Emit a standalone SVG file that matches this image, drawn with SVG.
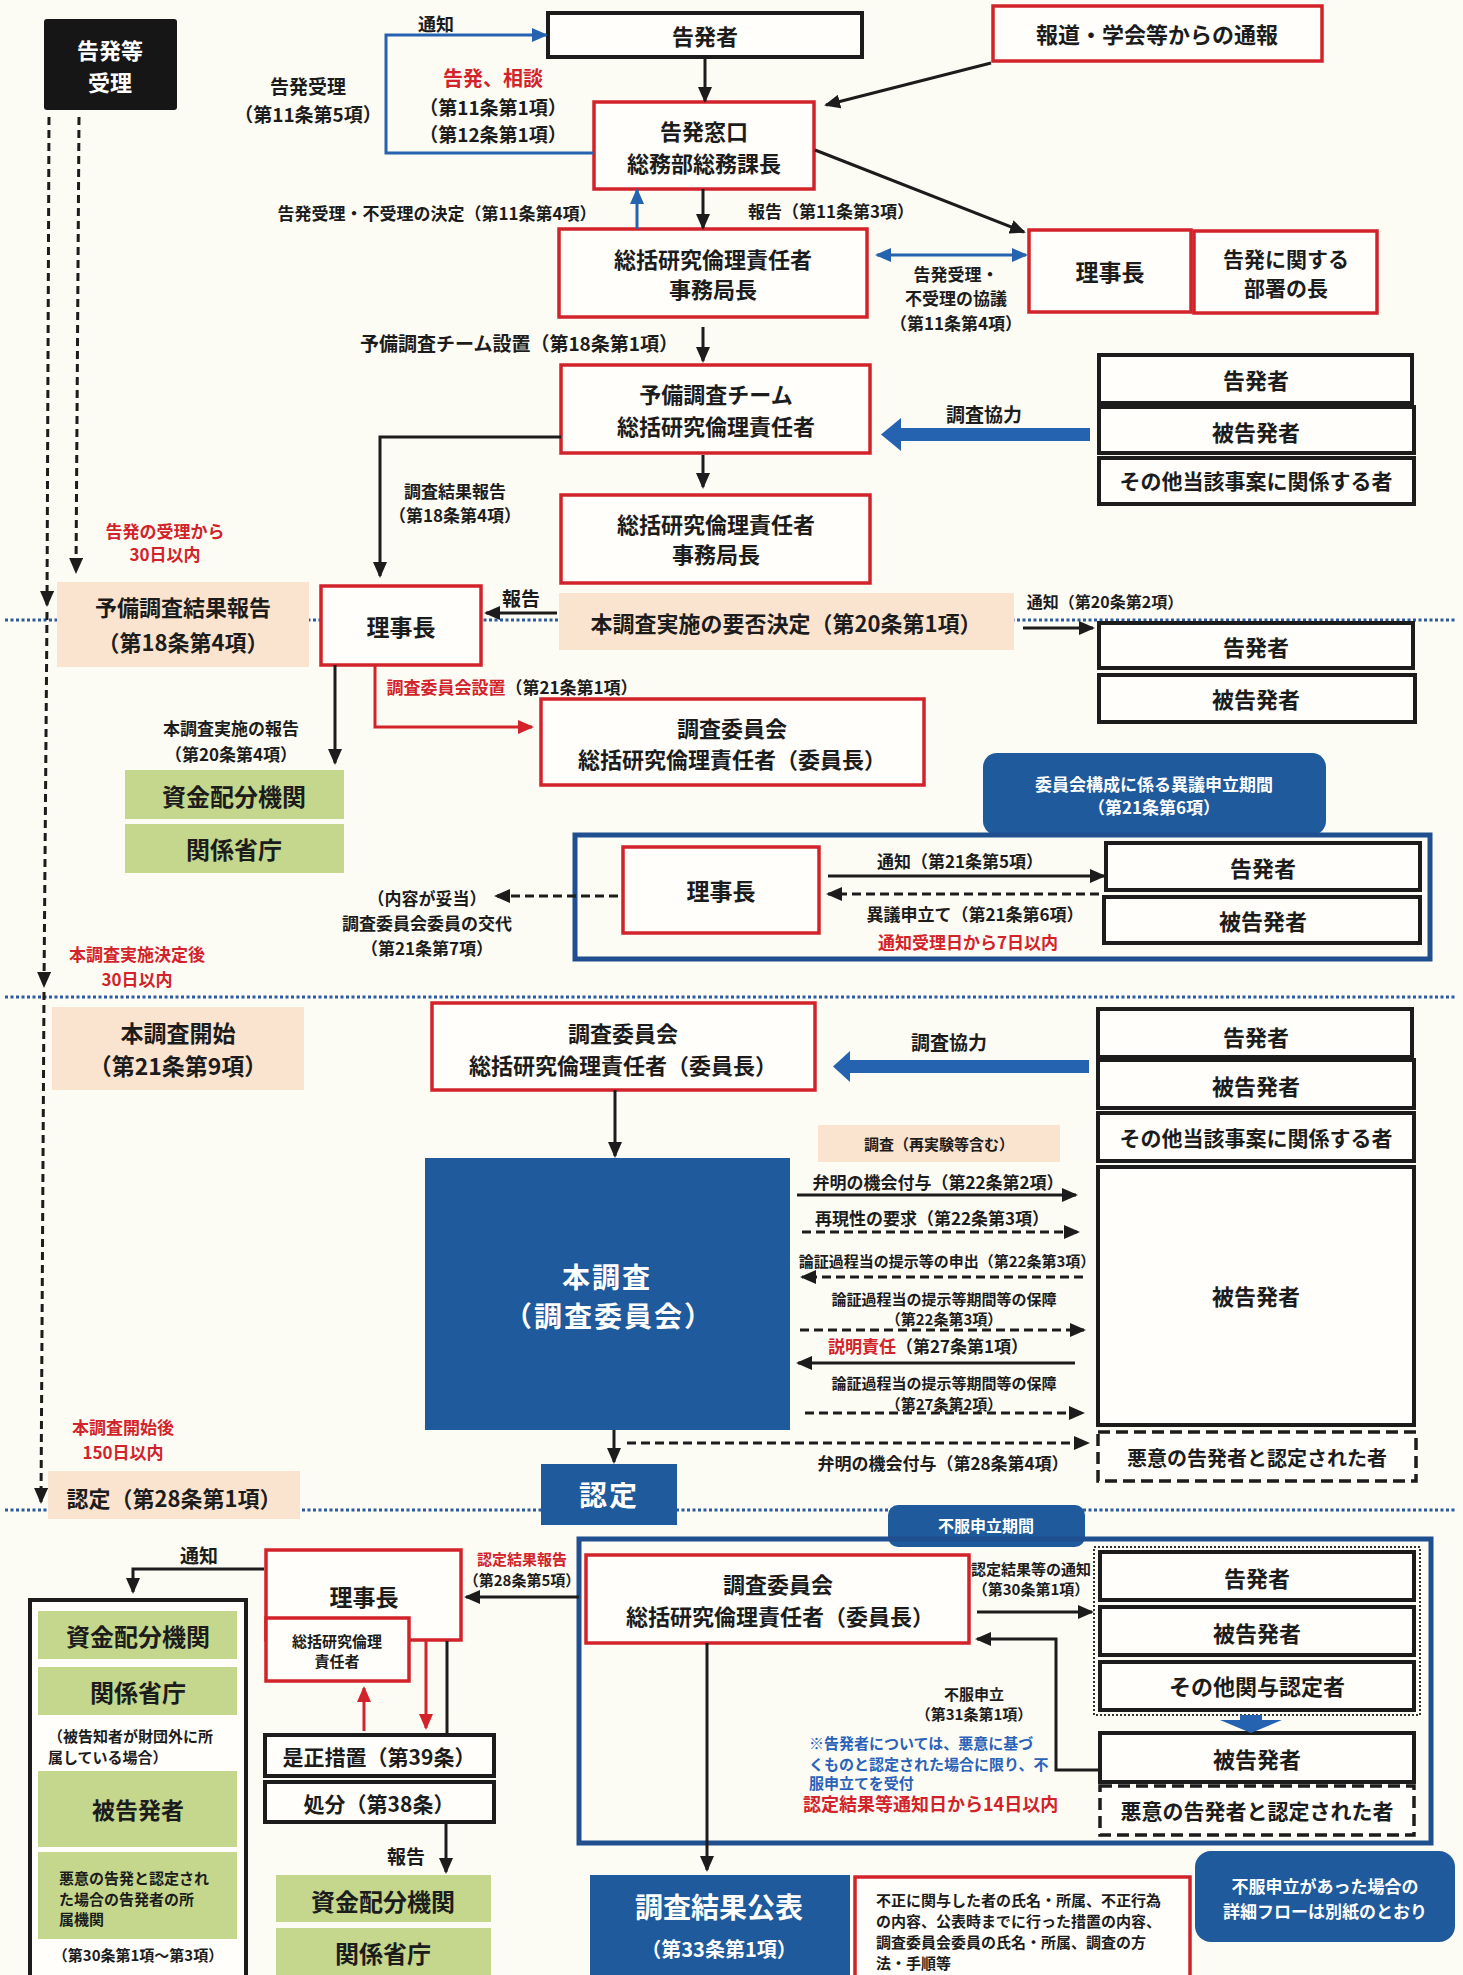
<svg xmlns="http://www.w3.org/2000/svg" width="1463" height="1975" viewBox="0 0 1463 1975">
<style>
text{font-family:"Noto Sans CJK JP","Noto Sans CJK SC",sans-serif;font-weight:700;fill:#1c1c1c;text-anchor:middle;dominant-baseline:central}
.st{text-anchor:start}
.w{fill:#fff}
.r{fill:#d2232a}
.bt{fill:#2a62b8}
.f14{font-size:14px}.f15{font-size:15px}.f16{font-size:16px}.f17{font-size:17px}.f18{font-size:18px}.f19{font-size:19px}.f20{font-size:20px}.f21{font-size:21px}.f22{font-size:22px}.f23{font-size:23px}.f24{font-size:24px}.f28{font-size:28px}.f30{font-size:30px}
.rb{fill:#fffefa;stroke:#d2232a;stroke-width:3.5}
.kb{fill:#fffefa;stroke:#1c1c1c;stroke-width:4}
.kd{fill:#fffefa;stroke:#1c1c1c;stroke-width:3.5;stroke-dasharray:12 6}
.pe{fill:#fbe4cf}
.gr{fill:#c4d78c}
.bl{fill:#1f5a9c}
.bo{fill:none;stroke:#1f4f8f;stroke-width:5}
.ln{fill:none;stroke:#1c1c1c;stroke-width:3}
.dl{fill:none;stroke:#1c1c1c;stroke-width:3;stroke-dasharray:9 5}
.vl{fill:none;stroke:#1c1c1c;stroke-width:3;stroke-dasharray:8 5}
.bln{fill:none;stroke:#2563b0;stroke-width:3}
.rln{fill:none;stroke:#d2232a;stroke-width:3}
.dot{fill:none;stroke:#2b5aa0;stroke-width:3;stroke-dasharray:3 2.5}
</style>
<defs>
<marker id="ak" markerUnits="userSpaceOnUse" markerWidth="16" markerHeight="14" refX="14" refY="7" orient="auto"><path d="M0,0L16,7L0,14z" fill="#1c1c1c"/></marker>
<marker id="ab" markerUnits="userSpaceOnUse" markerWidth="16" markerHeight="14" refX="14" refY="7" orient="auto-start-reverse"><path d="M0,0L16,7L0,14z" fill="#2563b0"/></marker>
<marker id="ar" markerUnits="userSpaceOnUse" markerWidth="16" markerHeight="14" refX="14" refY="7" orient="auto"><path d="M0,0L16,7L0,14z" fill="#d2232a"/></marker>
</defs>
<rect x="0" y="0" width="1463" height="1975" fill="#fcfbf4"/>

<g id="separators">
<path class="dot" d="M5,620H1455"/>
<path class="dot" d="M5,997H1455"/>
<path class="dot" d="M5,1510H1455"/>
</g>

<g id="n-kokuhatsu-juri">
<rect x="44" y="19" width="133" height="91" rx="3" fill="#161616"/>
<text class="f22 w" x="110" y="49">告発等</text>
<text class="f22 w" x="110" y="81">受理</text>
</g>

<g id="n-kokuhatsusha-top">
<rect class="kb" x="548" y="13" width="314" height="44"/>
<text class="f22" x="705" y="35">告発者</text>
</g>
<g id="n-hodo">
<rect class="rb" x="993" y="6" width="329" height="55"/>
<text class="f22" x="1157" y="33">報道・学会等からの通報</text>
</g>
<g id="n-madoguchi">
<rect class="rb" x="594" y="102" width="220" height="87"/>
<text class="f22" x="704" y="130">告発窓口</text>
<text class="f22" x="704" y="162">総務部総務課長</text>
</g>
<g id="n-sekininsha1">
<rect class="rb" x="559" y="229" width="308" height="88"/>
<text class="f22" x="713" y="258">総括研究倫理責任者</text>
<text class="f22" x="713" y="288">事務局長</text>
</g>
<g id="n-rijicho1">
<rect class="rb" x="1029" y="230" width="162" height="82"/>
<text class="f23" x="1110" y="271">理事長</text>
</g>
<g id="n-busho">
<rect class="rb" x="1194" y="231" width="183" height="82"/>
<text class="f21" x="1286" y="258">告発に関する</text>
<text class="f21" x="1286" y="287">部署の長</text>
</g>
<g id="n-yobi-team">
<rect class="rb" x="561" y="365" width="309" height="88"/>
<text class="f22" x="716" y="393">予備調査チーム</text>
<text class="f22" x="716" y="425">総括研究倫理責任者</text>
</g>
<g id="n-sekininsha2">
<rect class="rb" x="561" y="495" width="309" height="88"/>
<text class="f22" x="716" y="523">総括研究倫理責任者</text>
<text class="f22" x="716" y="553">事務局長</text>
</g>
<g id="n-kyoryoku1">
<rect class="kb" x="1099" y="355" width="313" height="48"/>
<text class="f22" x="1256" y="379">告発者</text>
<rect class="kb" x="1099" y="407" width="315" height="46"/>
<text class="f22" x="1256" y="431">被告発者</text>
<rect class="kb" x="1099" y="458" width="315" height="46"/>
<text class="f21" x="1256" y="480">その他当該事案に関係する者</text>
</g>

<g id="n-yobi-kekka">
<rect class="pe" x="57" y="582" width="252" height="85"/>
<text class="f22" x="183" y="606">予備調査結果報告</text>
<text class="f22" x="183" y="641">（第18条第4項）</text>
</g>
<g id="n-rijicho2">
<rect class="rb" x="321" y="586" width="160" height="79"/>
<text class="f23" x="401" y="626">理事長</text>
</g>
<g id="n-yohi">
<rect class="pe" x="559" y="593" width="455" height="57"/>
<text class="f22" x="786" y="622">本調査実施の要否決定（第20条第1項）</text>
</g>
<g id="n-tsuchi20">
<rect class="kb" x="1099" y="623" width="314" height="45"/>
<text class="f22" x="1256" y="646">告発者</text>
<rect class="kb" x="1099" y="675" width="316" height="47"/>
<text class="f22" x="1256" y="698">被告発者</text>
</g>
<g id="n-shikin1">
<rect class="gr" x="125" y="770" width="219" height="49"/>
<text class="f24" x="234" y="795">資金配分機関</text>
<rect class="gr" x="125" y="824" width="219" height="49"/>
<text class="f24" x="234" y="848">関係省庁</text>
</g>
<g id="n-iinkai1">
<rect class="rb" x="541" y="699" width="383" height="86"/>
<text class="f22" x="732" y="727">調査委員会</text>
<text class="f22" x="732" y="758">総括研究倫理責任者（委員長）</text>
</g>
<g id="n-igi-kikan">
<rect class="bl" x="983" y="753" width="343" height="82" rx="14"/>
<text class="f17 w" x="1154" y="783">委員会構成に係る異議申立期間</text>
<text class="f17 w" x="1154" y="806">（第21条第6項）</text>
</g>
<g id="n-igi-frame">
<rect class="bo" x="575" y="835" width="855" height="124"/>
</g>
<g id="n-rijicho3">
<rect class="rb" x="623" y="847" width="196" height="86"/>
<text class="f23" x="721" y="890">理事長</text>
</g>
<g id="n-igi-parties">
<rect class="kb" x="1106" y="843" width="314" height="47"/>
<text class="f22" x="1263" y="867">告発者</text>
<rect class="kb" x="1104" y="897" width="316" height="46"/>
<text class="f22" x="1263" y="920">被告発者</text>
</g>

<g id="n-honchosa-kaishi">
<rect class="pe" x="52" y="1007" width="252" height="83"/>
<text class="f23" x="178" y="1032">本調査開始</text>
<text class="f23" x="178" y="1065">（第21条第9項）</text>
</g>
<g id="n-iinkai2">
<rect class="rb" x="432" y="1003" width="383" height="87"/>
<text class="f22" x="623" y="1032">調査委員会</text>
<text class="f22" x="623" y="1064">総括研究倫理責任者（委員長）</text>
</g>
<g id="n-kyoryoku2">
<rect class="kb" x="1098" y="1009" width="314" height="48"/>
<text class="f22" x="1256" y="1036">告発者</text>
<rect class="kb" x="1098" y="1060" width="316" height="48"/>
<text class="f22" x="1256" y="1085">被告発者</text>
<rect class="kb" x="1098" y="1113" width="316" height="48"/>
<text class="f21" x="1256" y="1137">その他当該事案に関係する者</text>
</g>
<g id="n-honchosa">
<rect class="bl" x="425" y="1158" width="365" height="272"/>
<text class="f28 w" x="607" y="1276" letter-spacing="2">本調査</text>
<text class="f28 w" x="609" y="1315" letter-spacing="2">（調査委員会）</text>
</g>
<g id="n-chosa-label">
<rect class="pe" x="818" y="1125" width="242" height="37"/>
<text class="f15" x="939" y="1143">調査（再実験等含む）</text>
</g>
<g id="n-hikokuhatsusha-big">
<rect class="kb" x="1098" y="1167" width="316" height="258"/>
<text class="f22" x="1256" y="1295">被告発者</text>
</g>
<g id="n-akui1">
<rect class="kd" x="1098" y="1432" width="318" height="49"/>
<text class="f20" x="1257" y="1457">悪意の告発者と認定された者</text>
</g>
<g id="n-nintei-label">
<rect class="pe" x="48" y="1471" width="252" height="48"/>
<text class="f22" x="174" y="1497">認定（第28条第1項）</text>
</g>
<g id="n-nintei">
<rect class="bl" x="541" y="1464" width="136" height="61"/>
<text class="f28 w" x="609" y="1494" letter-spacing="2">認定</text>
</g>

<g id="n-fufuku-kikan">
<rect class="bl" x="888" y="1505" width="197" height="42" rx="10"/>
<text class="f16 w" x="986" y="1525">不服申立期間</text>
</g>
<g id="n-fufuku-frame">
<rect class="bo" x="579" y="1539" width="852" height="304"/>
</g>
<g id="n-iinkai3">
<rect class="rb" x="586" y="1555" width="383" height="88"/>
<text class="f22" x="778" y="1583">調査委員会</text>
<text class="f22" x="780" y="1615">総括研究倫理責任者（委員長）</text>
</g>
<g id="n-nintei-parties">
<rect x="1094" y="1547" width="326" height="168" fill="none" stroke="#333" stroke-width="2" stroke-dasharray="2 2"/>
<rect class="kb" x="1100" y="1552" width="314" height="48"/>
<text class="f22" x="1257" y="1577">告発者</text>
<rect class="kb" x="1100" y="1607" width="314" height="48"/>
<text class="f22" x="1257" y="1632">被告発者</text>
<rect class="kb" x="1100" y="1662" width="314" height="48"/>
<text class="f22" x="1257" y="1685">その他関与認定者</text>
</g>
<g id="n-fufuku-parties">
<rect class="kb" x="1100" y="1733" width="314" height="49"/>
<text class="f22" x="1257" y="1758">被告発者</text>
<rect class="kd" x="1100" y="1786" width="314" height="49"/>
<text class="f21" x="1257" y="1810">悪意の告発者と認定された者</text>
</g>
<g id="n-kohyo">
<rect class="bl" x="590" y="1875" width="260" height="110"/>
<text class="f28 w" x="719" y="1906">調査結果公表</text>
<text class="f20 w" x="719" y="1948">（第33条第1項）</text>
</g>
<g id="n-kohyo-naiyo">
<rect class="rb" x="855" y="1877" width="335" height="110"/>
<text class="f15 st" x="876" y="1899">不正に関与した者の氏名・所属、不正行為</text>
<text class="f15 st" x="876" y="1920">の内容、公表時までに行った措置の内容、</text>
<text class="f15 st" x="876" y="1941">調査委員会委員の氏名・所属、調査の方</text>
<text class="f15 st" x="876" y="1962">法・手順等</text>
</g>
<g id="n-betsushi">
<rect class="bl" x="1195" y="1851" width="260" height="91" rx="16"/>
<text class="f17 w" x="1325" y="1885">不服申立があった場合の</text>
<text class="f17 w" x="1325" y="1910">詳細フローは別紙のとおり</text>
</g>
<g id="n-rijicho4">
<rect class="rb" x="266" y="1550" width="195" height="90"/>
<text class="f23" x="364" y="1596">理事長</text>
<rect class="rb" x="266" y="1618" width="143" height="63"/>
<text class="f15" x="337" y="1640">総括研究倫理</text>
<text class="f15" x="337" y="1660">責任者</text>
</g>
<g id="n-zesei">
<rect class="kb" x="265" y="1735" width="229" height="41"/>
<text class="f21" x="379" y="1756">是正措置（第39条）</text>
</g>
<g id="n-shobun">
<rect class="kb" x="265" y="1782" width="229" height="40"/>
<text class="f21" x="379" y="1803">処分（第38条）</text>
</g>
<g id="n-shikin2">
<rect class="gr" x="276" y="1875" width="215" height="47"/>
<text class="f24" x="383" y="1900">資金配分機関</text>
<rect class="gr" x="276" y="1928" width="215" height="50"/>
<text class="f24" x="383" y="1952">関係省庁</text>
</g>
<g id="n-tsuchisaki">
<rect class="kb" x="30" y="1600" width="216" height="390"/>
<rect class="gr" x="38" y="1611" width="199" height="48"/>
<text class="f24" x="138" y="1635">資金配分機関</text>
<rect class="gr" x="38" y="1667" width="199" height="48"/>
<text class="f24" x="138" y="1691">関係省庁</text>
<text class="f15 st" x="48" y="1735">（被告知者が財団外に所</text>
<text class="f15 st" x="48" y="1756">属している場合）</text>
<rect class="gr" x="38" y="1771" width="199" height="76"/>
<text class="f23" x="138" y="1809">被告発者</text>
<rect class="gr" x="38" y="1852" width="199" height="87"/>
<text class="f15 st" x="59" y="1877">悪意の告発と認定され</text>
<text class="f15 st" x="59" y="1898">た場合の告発者の所</text>
<text class="f15 st" x="59" y="1918">属機関</text>
<text class="f15" x="138" y="1954">（第30条第1項～第3項）</text>
</g>

<g id="labels">
<text class="f18" x="436" y="23">通知</text>
<text class="f19" x="308" y="85">告発受理</text>
<text class="f19" x="308" y="113">（第11条第5項）</text>
<text class="f20 r" x="493" y="77">告発、相談</text>
<text class="f19" x="493" y="106">（第11条第1項）</text>
<text class="f19" x="493" y="133">（第12条第1項）</text>
<text class="f17" x="437" y="212">告発受理・不受理の決定（第11条第4項）</text>
<text class="f17" x="831" y="210">報告（第11条第3項）</text>
<text class="f17" x="956" y="273">告発受理・</text>
<text class="f17" x="956" y="297">不受理の協議</text>
<text class="f17" x="956" y="322">（第11条第4項）</text>
<text class="f19" x="519" y="342">予備調査チーム設置（第18条第1項）</text>
<text class="f19" x="984" y="413">調査協力</text>
<text class="f17" x="455" y="490">調査結果報告</text>
<text class="f17" x="455" y="514">（第18条第4項）</text>
<text class="f17 r" x="165" y="530">告発の受理から</text>
<text class="f17 r" x="165" y="553">30日以内</text>
<text class="f19" x="521" y="597">報告</text>
<text class="f16" x="1105" y="601">通知（第20条第2項）</text>
<text class="f17" x="512" y="686"><tspan class="r">調査委員会設置</tspan>（第21条第1項）</text>
<text class="f17" x="231" y="727">本調査実施の報告</text>
<text class="f17" x="231" y="753">（第20条第4項）</text>
<text class="f17" x="960" y="860">通知（第21条第5項）</text>
<text class="f17" x="975" y="913">異議申立て（第21条第6項）</text>
<text class="f17 r" x="968" y="941">通知受理日から7日以内</text>
<text class="f17" x="427" y="897">（内容が妥当）</text>
<text class="f17" x="427" y="922">調査委員会委員の交代</text>
<text class="f17" x="427" y="947">（第21条第7項）</text>
<text class="f17 r" x="137" y="953">本調査実施決定後</text>
<text class="f17 r" x="137" y="978">30日以内</text>
<text class="f19" x="949" y="1041">調査協力</text>
<text class="f17" x="938" y="1181">弁明の機会付与（第22条第2項）</text>
<text class="f17" x="932" y="1217">再現性の要求（第22条第3項）</text>
<text class="f15" x="947" y="1260">論証過程当の提示等の申出（第22条第3項）</text>
<text class="f15" x="944" y="1298">論証過程当の提示等期間等の保障</text>
<text class="f15" x="944" y="1318">（第22条第3項）</text>
<text class="f17" x="928" y="1345"><tspan class="r">説明責任</tspan>（第27条第1項）</text>
<text class="f15" x="944" y="1382">論証過程当の提示等期間等の保障</text>
<text class="f15" x="944" y="1403">（第27条第2項）</text>
<text class="f17" x="943" y="1462">弁明の機会付与（第28条第4項）</text>
<text class="f17 r" x="123" y="1426">本調査開始後</text>
<text class="f17 r" x="123" y="1451">150日以内</text>
<text class="f19" x="199" y="1554">通知</text>
<text class="f15 r" x="522" y="1558">認定結果報告</text>
<text class="f15" x="522" y="1579">（第28条第5項）</text>
<text class="f15" x="1031" y="1568">認定結果等の通知</text>
<text class="f15" x="1031" y="1588">（第30条第1項）</text>
<text class="f15" x="974" y="1693">不服申立</text>
<text class="f15" x="974" y="1713">（第31条第1項）</text>
<text class="f15 st bt" x="809" y="1742">※告発者については、悪意に基づ</text>
<text class="f15 st bt" x="809" y="1763">くものと認定された場合に限り、不</text>
<text class="f15 st bt" x="809" y="1782">服申立てを受付</text>
<text class="f18 st r" x="803" y="1803">認定結果等通知日から14日以内</text>
<text class="f19" x="406" y="1855">報告</text>
</g>

<g id="connectors">
<path class="vl" d="M49,117L47,605" marker-end="url(#ak)"/>
<path class="vl" d="M47,612L44,986" marker-end="url(#ak)"/>
<path class="vl" d="M44,992L41,1502" marker-end="url(#ak)"/>
<path class="vl" d="M79,117L76,572" marker-end="url(#ak)"/>
<path class="bln" d="M594,153H386V35H546" marker-end="url(#ab)"/>
<path class="ln" d="M705,57V101" marker-end="url(#ak)"/>
<path class="ln" d="M991,63L826,105" marker-end="url(#ak)"/>
<path class="ln" d="M815,150L1024,232" marker-end="url(#ak)"/>
<path class="bln" d="M637,229V190" marker-end="url(#ab)"/>
<path class="ln" d="M703,189V228" marker-end="url(#ak)"/>
<path class="bln" d="M877,255H1026" marker-start="url(#ab)" marker-end="url(#ab)"/>
<path class="ln" d="M703,327V361" marker-end="url(#ak)"/>
<path class="ln" d="M703,455V487" marker-end="url(#ak)"/>
<polygon points="1090,428 901,428 901,418 881,434.5 901,451 901,441 1090,441" fill="#2563b0"/>
<path class="ln" d="M561,437H380V576" marker-end="url(#ak)"/>
<path class="ln" d="M557,613H486" marker-end="url(#ak)"/>
<path class="ln" d="M1023,628H1093" marker-end="url(#ak)"/>
<path class="ln" d="M335,665V763" marker-end="url(#ak)"/>
<path class="rln" d="M375,665V727H532" marker-end="url(#ar)"/>
<path class="ln" d="M828,876H1104" marker-end="url(#ak)"/>
<path class="dl" d="M1099,894H828" marker-end="url(#ak)"/>
<path class="dl" d="M618,896H496" marker-end="url(#ak)"/>
<polygon points="1089,1060 850,1060 850,1051 833,1066.5 850,1082 850,1073 1089,1073" fill="#2563b0"/>
<path class="ln" d="M615,1090V1156" marker-end="url(#ak)"/>
<path class="ln" d="M797,1195H1076" marker-end="url(#ak)"/>
<path class="dl" d="M802,1232H1078" marker-end="url(#ak)"/>
<path class="dl" d="M1083,1277H802" marker-end="url(#ak)"/>
<path class="dl" d="M800,1330H1084" marker-end="url(#ak)"/>
<path class="ln" d="M1075,1363H798" marker-end="url(#ak)"/>
<path class="dl" d="M805,1413H1083" marker-end="url(#ak)"/>
<path class="ln" d="M614,1430V1462" marker-end="url(#ak)"/>
<path class="dl" d="M627,1443H1088" marker-end="url(#ak)"/>
<path class="ln" d="M264,1569H133V1592" marker-end="url(#ak)"/>
<path class="ln" d="M579,1597H466" marker-end="url(#ak)"/>
<path class="ln" d="M977,1612H1092" marker-end="url(#ak)"/>
<path class="ln" d="M1100,1770H1056V1639H977" marker-end="url(#ak)"/>
<polygon points="1240,1715 1262,1715 1262,1720 1282,1720 1251,1733 1220,1720 1240,1720" fill="#2563b0"/>
<path class="ln" d="M707,1643V1870" marker-end="url(#ak)"/>
<path class="rln" d="M364,1731V1688" marker-end="url(#ar)"/>
<path class="rln" d="M426,1641V1728" marker-end="url(#ar)"/>
<path class="ln" d="M447,1641V1733"/>
<path class="ln" d="M446,1824V1872" marker-end="url(#ak)"/>
</g>
</svg>
